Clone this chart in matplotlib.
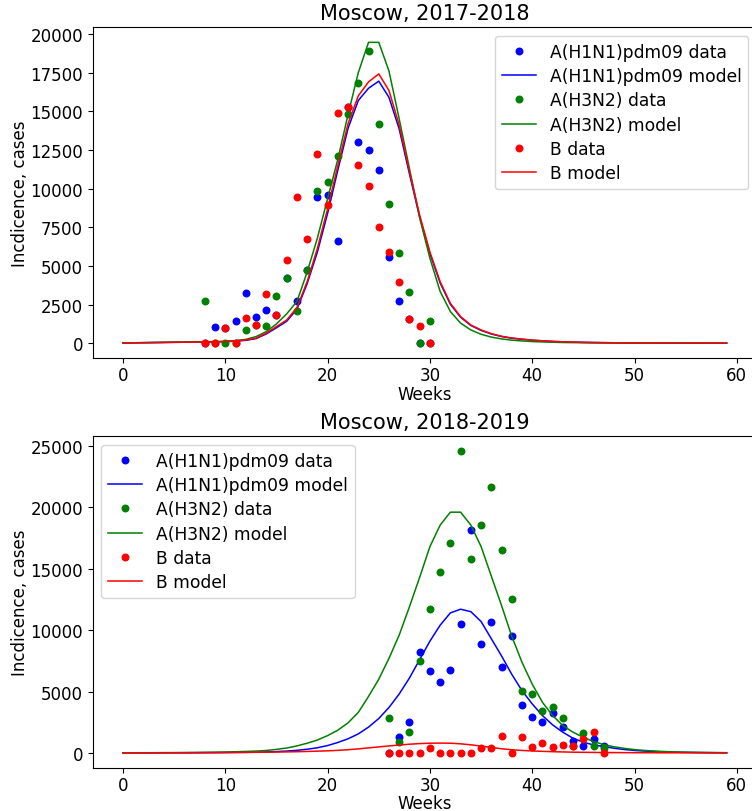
import numpy as np
import matplotlib
matplotlib.use("Agg")
import matplotlib.pyplot as plt

# ---------------- data ----------------
weeks_model = list(range(60))

# Moscow 2017-2018
weeks_data_1 = list(range(8, 31))
h1n1_data_1 = [0, 1054, 1011, 1419, 3226, 1720, 2150, 1849, 4194, 2731, 4753, 9462,
               9570, 6624, 15269, 12989, 12473, 11183, 5570, 2753, 1548, 0, 0]
h3n2_data_1 = [2710, 0, 0, 0, 839, 1161, 1097, 3054, 4194, 2065, 4753, 9849,
               10430, 12108, 14796, 16839, 18925, 14172, 9032, 5849, 3333, 0, 1441]
b_data_1 = [0, 0, 1011, 0, 1634, 1161, 3204, 1849, 5376, 9462, 6774, 12215,
            8925, 14860, 15269, 11548, 10172, 7548, 5914, 3957, 1548, 1118, 0]

h1n1_model_1 = [20, 28, 36, 44, 52, 60, 68, 76, 84, 92, 100, 135, 190, 300, 600, 1000,
                1420, 2200, 3850, 5900, 8400, 11200, 13900, 15700, 16490, 16950,
                15900, 13850, 10950, 8150, 5800, 3900, 2520, 1680, 1150, 830, 600,
                435, 325, 255, 195, 155, 118, 92, 72, 58, 47, 38, 31, 26, 22, 19,
                16, 14, 12, 11, 10, 9, 8, 7]
h3n2_model_1 = [20, 30, 40, 50, 60, 70, 80, 90, 100, 110, 130, 170, 250, 430, 750,
                1250, 1900, 2700, 4600, 6800, 9350, 11900, 14800, 17500, 19460,
                19460, 17600, 14500, 11300, 8100, 5500, 3350, 2050, 1300, 860, 580,
                400, 280, 200, 150, 110, 85, 65, 50, 40, 32, 26, 21, 17, 14, 12, 10,
                9, 8, 7, 6, 5, 5, 4, 4]
b_model_1 = [20, 28, 36, 44, 52, 60, 68, 76, 84, 92, 110, 150, 210, 330, 650, 1080,
             1500, 2300, 3980, 6130, 8700, 11500, 14200, 16000, 16900, 17420, 16340,
             14100, 11100, 8280, 5900, 3980, 2580, 1720, 1180, 860, 620, 450, 340,
             270, 200, 160, 120, 95, 75, 60, 48, 40, 33, 28, 24, 20, 17, 15, 13, 12,
             11, 10, 9, 8]

# Moscow 2018-2019
weeks_data_2 = list(range(26, 48))
h1n1_data_2 = [0, 1330, 2550, 8250, 6700, 5750, 6780, 10500, 18150, 8840, 10630,
               7020, 9490, 3900, 2900, 2520, 3280, 2120, 1000, 570, 1140, 540]
h3n2_data_2 = [2880, 900, 1710, 7510, 11700, 14750, 17090, 24550, 15780, 18580,
               21670, 16520, 12530, 5040, 4830, 3390, 3740, 2820, 540, 1630, 570, 400]
b_data_2 = [0, 0, 0, 0, 430, 0, 0, 0, 0, 430, 430, 1410, 0, 1300, 490, 840, 490,
            620, 540, 1110, 1680, 0]

h1n1_model_2 = [5, 6, 7, 8, 10, 12, 14, 17, 20, 24, 30, 38, 48, 62, 80, 110, 150,
                210, 300, 420, 600, 850, 1150, 1550, 2100, 2800, 3700, 4800, 6100,
                7600, 9100, 10400, 11400, 11700, 11500, 10700, 9300, 7900, 6400,
                5070, 3990, 3040, 2280, 1680, 1190, 870, 650, 520, 380, 280, 200, 150,
                110, 80, 60, 45, 35, 25, 18, 13]
h3n2_model_2 = [10, 12, 15, 18, 22, 27, 33, 40, 50, 60, 75, 95, 120, 150, 200, 290,
                400, 570, 790, 1050, 1410, 1850, 2450, 3300, 4600, 6000, 7700, 9600,
                11900, 14300, 16800, 18550, 19600, 19600, 18550, 16800, 14400, 12000,
                9500, 7380, 5600, 4120, 3040, 2220, 1680, 1270, 920, 680, 500, 370,
                270, 200, 150, 110, 80, 60, 45, 35, 25, 20]
b_model_2 = [5, 6, 7, 8, 9, 10, 12, 14, 17, 20, 30, 36, 42, 50, 60, 72, 85, 100, 120,
             145, 170, 210, 260, 330, 410, 490, 570, 640, 710, 760, 790, 800, 790,
             740, 660, 560, 450, 340, 260, 200, 160, 130, 100, 80, 60, 50, 40, 33,
             27, 22, 18, 15, 12, 10, 9, 8, 7, 6, 5, 5]

titles = ["Moscow, 2017-2018", "Moscow, 2018-2019"]
labels = ["A(H1N1)pdm09 data", "A(H1N1)pdm09 model", "A(H3N2) data",
          "A(H3N2) model", "B data", "B model"]

# ---------------- plot ----------------
plt.rcParams['font.family'] = ['DejaVu Sans']
fig = plt.figure(figsize=(7.52, 8.12), dpi=100)

W, H = 752.0, 812.0
ax1 = fig.add_axes([92.8 / W, (H - 359.3) / H, 664.0 / W, 331.0 / H])
ax2 = fig.add_axes([92.8 / W, (H - 769.0) / H, 664.0 / W, 331.7 / H])

sets = [
    (ax1, weeks_data_1, h1n1_data_1, h3n2_data_1, b_data_1,
     h1n1_model_1, h3n2_model_1, b_model_1, titles[0], 'upper right'),
    (ax2, weeks_data_2, h1n1_data_2, h3n2_data_2, b_data_2,
     h1n1_model_2, h3n2_model_2, b_model_2, titles[1], 'upper left'),
]

ms = 4.7
lw = 1.1
for ax, wd, d1, d2, d3, m1, m2, m3, title, loc in sets:
    ax.plot(wd, d1, 'o', color='b', ms=ms, label=labels[0])
    ax.plot(weeks_model, m1, '-', color='b', lw=lw, label=labels[1])
    ax.plot(wd, d2, 'o', color='g', ms=ms, label=labels[2])
    ax.plot(weeks_model, m2, '-', color='g', lw=lw, label=labels[3])
    ax.plot(wd, d3, 'o', color='r', ms=ms, label=labels[4])
    ax.plot(weeks_model, m3, '-', color='r', lw=lw, label=labels[5])
    ax.set_title(title, fontsize=15)
    ax.tick_params(axis='x', pad=2)
    ax.set_xlabel("Weeks", fontsize=12, labelpad=0.5)
    ax.set_ylabel("Incdicence, cases", fontsize=12, labelpad=1)
    ax.tick_params(labelsize=12)
    ax.set_xticks([0, 10, 20, 30, 40, 50, 60])
    ax.legend(loc=loc, fontsize=12.3, labelspacing=0.37)

fig.savefig("out.png", dpi=100)
